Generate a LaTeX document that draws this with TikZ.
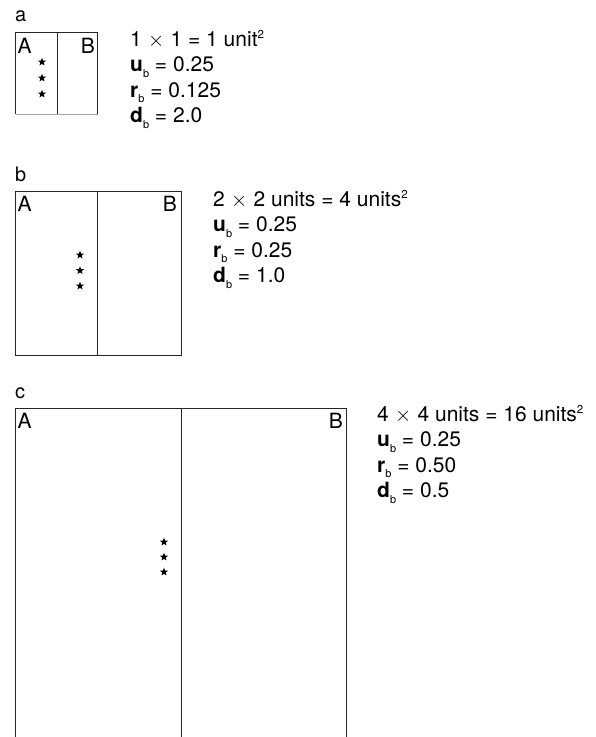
\documentclass[tikz,border=0pt]{standalone}
\usepackage{fontspec}
\usetikzlibrary{shapes.geometric}
\setmainfont{TeX Gyre Heros}
\newcommand\bsub[1]{\textbf{#1}\raisebox{-5.5pt}{\fontsize{11}{10}\selectfont b}}
\newcommand\sqsup{\raisebox{7.5pt}{\fontsize{11.5}{10}\selectfont 2}}
\newcommand\tms{\hspace{0.3em}$\times$\hspace{0.3em}}
\tikzset{
  txt/.style={anchor=base west, inner sep=0pt, font=\fontsize{21}{24}\selectfont},
  plabel/.style={anchor=base west, inner sep=0pt, font=\fontsize{20}{22}\selectfont},
  letterw/.style={anchor=base west, inner sep=0pt, font=\fontsize{21}{24}\selectfont},
  lettere/.style={anchor=base east, inner sep=0pt, font=\fontsize{21}{24}\selectfont},
  starmark/.style={star, star points=5, star point ratio=2.3, fill=black, draw=none, inner sep=0pt, minimum size=8.5pt},
  boxline/.style={line width=0.9pt, black!85},
  faint/.style={line width=0.5pt, black!35}
}
\begin{document}
\begin{tikzpicture}[x=1pt,y=-1pt]
\useasboundingbox (0,0) rectangle (596,737);
% ---------------- panel a ----------------
\node[plabel] (la) at (15,21) {a};
\draw[boxline] (15.5,114) -- (15.5,32.5) -- (97.5,32.5) -- (97.5,114);
\draw[faint] (15.5,114) -- (97.5,114);
\draw[boxline] (57.5,32.5) -- (57.5,114);
\node[letterw] (aA) at (17.5,53) {A};
\node[lettere] (aB) at (95,53) {B};
\node[starmark] (as1) at (42,62) {};
\node[starmark] (as2) at (42,78) {};
\node[starmark] (as3) at (42,94) {};
\node[txt] (at1) at (130,46) {1\tms1 = 1 unit\sqsup};
\node[txt] (at2) at (130,71.5) {\bsub{u} = 0.25};
\node[txt] (at3) at (130,97) {\bsub{r} = 0.125};
\node[txt] (at4) at (130,122.5) {\bsub{d} = 2.0};
% ---------------- panel b ----------------
\node[plabel] (lb) at (15,181) {b};
\draw[boxline] (15.5,355) rectangle (181,191);
\draw[boxline] (97.7,191) -- (97.7,355);
\node[letterw] (bA) at (17.5,211) {A};
\node[lettere] (bB) at (177,211) {B};
\node[starmark] (bs1) at (80,255) {};
\node[starmark] (bs2) at (80,270.5) {};
\node[starmark] (bs3) at (80,286) {};
\node[txt] (bt1) at (213,206) {2\tms2 units = 4 units\sqsup};
\node[txt] (bt2) at (213,231.5) {\bsub{u} = 0.25};
\node[txt] (bt3) at (213,257) {\bsub{r} = 0.25};
\node[txt] (bt4) at (213,282.5) {\bsub{d} = 1.0};
% ---------------- panel c ----------------
\node[plabel] (lc) at (15,398) {c};
\draw[boxline] (15.5,737) -- (15.5,408.5) -- (346.5,408.5) -- (346.5,737);
\draw[boxline] (181,408.5) -- (181,737);
\node[letterw] (cA) at (17.5,428.5) {A};
\node[lettere] (cB) at (343,428.5) {B};
\node[starmark] (cs1) at (164,542) {};
\node[starmark] (cs2) at (164,557) {};
\node[starmark] (cs3) at (164,572) {};
\node[txt] (ct1) at (377,421) {4\tms4 units = 16 units\sqsup};
\node[txt] (ct2) at (377,446.5) {\bsub{u} = 0.25};
\node[txt] (ct3) at (377,472) {\bsub{r} = 0.50};
\node[txt] (ct4) at (377,497.5) {\bsub{d} = 0.5};
\end{tikzpicture}
\end{document}
